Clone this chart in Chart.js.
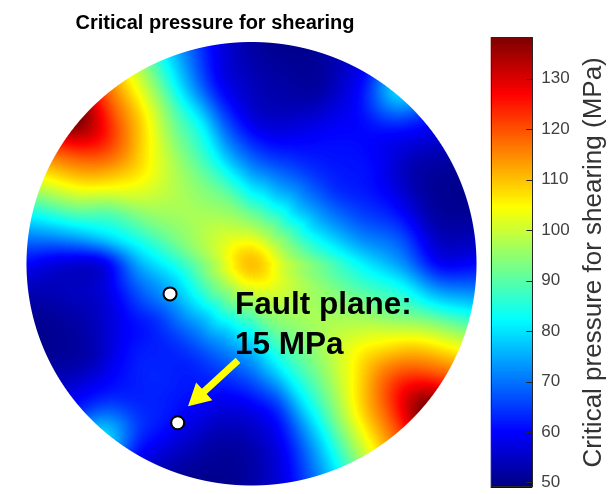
<!DOCTYPE html>
<html>
<head>
<meta charset="utf-8">
<style>
  html, body { margin: 0; padding: 0; background: #ffffff; overflow: hidden; }
  #wrap { position: relative; width: 616px; height: 494px; overflow: hidden; }
  #wrap canvas { position: absolute; left: 0; top: 0; }
</style>
<script src="https://cdn.jsdelivr.net/npm/chart.js@4.4.1/dist/chart.umd.min.js"></script>
</head>
<body>
<div id="wrap">
  <canvas id="net" width="616" height="494"></canvas>
  <canvas id="bar" width="616" height="540"></canvas>
</div>
<script>
// Lower-hemisphere net of pole directions, sampled on rings (fraction of the net radius)
// and azimuths (degrees clockwise from north). Values: critical pressure for shearing, MPa.
const ringRadius = [0, 1/6, 2/6, 3/6, 4/6, 5/6, 1];
const azimuths = [0, 10, 20, 30, 40, 50, 60, 70, 80, 90, 100, 110, 120, 130, 140, 150, 160, 170,
                  180, 190, 200, 210, 220, 230, 240, 250, 260, 270, 280, 290, 300, 310, 320, 330, 340, 350];
const centrePressure = 110;
const ring1 = [97, 96, 95, 95, 94, 95, 95, 96, 97, 99, 99, 100, 101, 101, 101, 100, 99, 98,
               96, 96, 95, 95, 94, 95, 95, 96, 97, 97, 99, 100, 101, 101, 101, 100, 99, 98];
const ring2 = [81, 79, 77, 77, 76, 77, 78, 81, 85, 90, 92, 95, 96, 97, 96, 94, 91, 86,
               81, 79, 77, 77, 76, 77, 78, 79, 81, 85, 90, 94, 96, 97, 96, 94, 91, 86];
const ring3 = [67, 64, 64, 64, 64, 64, 66, 69, 74, 81, 87, 93, 97, 99, 97, 92, 85, 76,
               69, 66, 65, 64, 64, 64, 64, 67, 70, 75, 83, 91, 97, 99, 97, 92, 84, 74];
const ring4 = [57, 55, 57, 60, 61, 61, 60, 62, 67, 73, 84, 93, 103, 108, 103, 93, 80, 64,
               58, 57, 60, 62, 63, 62, 59, 57, 57, 58, 78, 90, 103, 108, 103, 93, 82, 66];
const ring5 = [54, 52, 52, 58, 62, 58, 53, 52, 54, 60, 77, 97, 113, 122, 113, 97, 77, 60,
               53, 52, 56, 62, 64, 60, 53, 52, 54, 57, 77, 97, 113, 122, 113, 97, 77, 60];
const ring6 = [52, 50, 52, 60, 78, 62, 53, 50, 52, 60, 77, 99, 119, 138, 119, 99, 77, 60,
               52, 50, 52, 60, 78, 62, 53, 50, 52, 60, 77, 99, 119, 138, 119, 99, 77, 60];
const rings = [ring1, ring2, ring3, ring4, ring5, ring6];

// Colour scale (256-step jet)
const barMin = 49.0;
const barMax = 138.2;
const barTicks = [50, 60, 70, 80, 90, 100, 110, 120, 130];
const colourSteps = 256;

// Fault-plane poles (net coordinates, radius = 1)
const poleX = [-0.362, -0.328];
const poleY = [-0.136, -0.717];

// Arrow and label in net coordinates
const arrowTail = [-0.060, -0.436];
const arrowHead = [-0.282, -0.643];
const noteLines = ['Fault plane:', '15 MPa'];
const noteX = -0.073;
const noteY = [-0.228, -0.406];

const FONT = '"Liberation Sans", Arial, Helvetica, sans-serif';

function jet(val) {
  let t = (val - barMin) / (barMax - barMin);
  let k = Math.floor(t * colourSteps) + 1;
  k = Math.min(colourSteps, Math.max(1, k));
  t = k / colourSteps;
  const c = x => Math.round(255 * Math.min(1, Math.max(0, 1.5 - Math.abs(x))));
  return [c(4 * t - 3), c(4 * t - 2), c(4 * t - 1)];
}

const nAz = azimuths.length;
const nRing = ringRadius.length;

// value on ring k (k may run one step past either end) at azimuth column j
function ringValue(k, j) {
  j = ((j % nAz) + nAz) % nAz;
  if (k < 0) return ringValue(-k, j + nAz / 2);      // continue through the centre
  if (k === 0) return centrePressure;
  if (k >= nRing) return 2 * ringValue(nRing - 1, j) - ringValue(nRing - 2, j);
  return rings[k - 1][j];
}

function cubic(p0, p1, p2, p3, t) {
  return 0.5 * (2 * p1 + (-p0 + p2) * t + (2 * p0 - 5 * p1 + 4 * p2 - p3) * t * t
    + (-p0 + 3 * p1 - 3 * p2 + p3) * t * t * t);
}

function pressureAt(u, v) {
  const r = Math.min(Math.hypot(u, v), 1);
  let az = Math.atan2(u, v) * 180 / Math.PI;
  if (az < 0) az += 360;
  let i = 0;
  while (i < nRing - 2 && r > ringRadius[i + 1]) i++;
  const fr = (r - ringRadius[i]) / (ringRadius[i + 1] - ringRadius[i]);
  const a = az / (360 / nAz);
  const j = Math.floor(a);
  const fa = a - j;
  const along = k => cubic(ringValue(k, j - 1), ringValue(k, j), ringValue(k, j + 1), ringValue(k, j + 2), fa);
  return cubic(along(i - 1), along(i), along(i + 1), along(i + 2), fr);
}

// Paints the interpolated pressure field inside the unit circle of the net
const fieldPlugin = {
  id: 'field',
  beforeDatasetsDraw(chart) {
    const { ctx, chartArea, scales } = chart;
    const xs = scales.x, ys = scales.y;
    const x0 = Math.floor(chartArea.left) - 1, y0 = Math.floor(chartArea.top) - 1;
    const w = Math.ceil(chartArea.right) - x0 + 2, h = Math.ceil(chartArea.bottom) - y0 + 2;
    const off = document.createElement('canvas');
    off.width = w; off.height = h;
    const octx = off.getContext('2d');
    const img = octx.createImageData(w, h);
    const radiusPx = xs.getPixelForValue(1) - xs.getPixelForValue(0);
    for (let py = 0; py < h; py++) {
      const v = ys.getValueForPixel(y0 + py + 0.5);
      for (let px = 0; px < w; px++) {
        const u = xs.getValueForPixel(x0 + px + 0.5);
        const r = Math.hypot(u, v);
        const alpha = Math.min(1, Math.max(0, (1 - r) * radiusPx + 0.5));
        if (alpha <= 0) continue;
        const col = jet(pressureAt(u, v));
        const o = (py * w + px) * 4;
        img.data[o] = col[0]; img.data[o + 1] = col[1]; img.data[o + 2] = col[2];
        img.data[o + 3] = Math.round(alpha * 255);
      }
    }
    octx.putImageData(img, 0, 0);
    ctx.drawImage(off, x0, y0);
  }
};

// Arrow, annotation text and title
const notePlugin = {
  id: 'note',
  afterDatasetsDraw(chart) {
    const { ctx, scales } = chart;
    const xs = scales.x, ys = scales.y;
    const tx = xs.getPixelForValue(arrowTail[0]), ty = ys.getPixelForValue(arrowTail[1]);
    const hx = xs.getPixelForValue(arrowHead[0]), hy = ys.getPixelForValue(arrowHead[1]);
    const len = Math.hypot(hx - tx, hy - ty);
    const ux = (hx - tx) / len, uy = (hy - ty) / len;
    const nx = -uy, ny = ux;
    const headLen = 22, headHalf = 12, shaftHalf = 3.5;
    const bx = hx - ux * headLen, by = hy - uy * headLen;
    ctx.save();
    ctx.fillStyle = '#ffff00';
    ctx.beginPath();
    ctx.moveTo(tx + nx * shaftHalf, ty + ny * shaftHalf);
    ctx.lineTo(bx + nx * shaftHalf, by + ny * shaftHalf);
    ctx.lineTo(bx + nx * headHalf, by + ny * headHalf);
    ctx.lineTo(hx, hy);
    ctx.lineTo(bx - nx * headHalf, by - ny * headHalf);
    ctx.lineTo(bx - nx * shaftHalf, by - ny * shaftHalf);
    ctx.lineTo(tx - nx * shaftHalf, ty - ny * shaftHalf);
    ctx.closePath();
    ctx.fill();

    ctx.fillStyle = '#000000';
    ctx.font = 'bold 31.5px ' + FONT;
    ctx.textAlign = 'left';
    ctx.textBaseline = 'alphabetic';
    noteLines.forEach((line, k) => {
      ctx.fillText(line, xs.getPixelForValue(noteX), ys.getPixelForValue(noteY[k]));
    });

    ctx.font = 'bold 20px ' + FONT;
    ctx.textAlign = 'center';
    ctx.fillText('Critical pressure for shearing', xs.getPixelForValue(-0.162), 29);
    ctx.restore();
  }
};

new Chart(document.getElementById('net'), {
  type: 'scatter',
  data: {
    datasets: [{
      data: poleX.map((x, k) => ({ x, y: poleY[k] })),
      pointRadius: 6.5,
      pointHoverRadius: 6.5,
      pointBackgroundColor: '#ffffff',
      pointBorderColor: '#000000',
      pointBorderWidth: 2
    }]
  },
  options: {
    responsive: false,
    animation: false,
    events: [],
    layout: { padding: { left: 26.5, right: 616 - 476.5, top: 42, bottom: 2 } },
    scales: {
      x: { type: 'linear', min: -1, max: 1, display: false },
      y: { type: 'linear', min: -1, max: 1, display: false }
    },
    plugins: { legend: { display: false }, tooltip: { enabled: false } }
  },
  plugins: [fieldPlugin, notePlugin]
});

// Colour bar: gradient, frame, inward ticks and rotated label
const barPlugin = {
  id: 'colourBar',
  beforeDatasetsDraw(chart) {
    const { ctx, chartArea } = chart;
    const s = chart.scales.cb;
    ctx.save();
    for (let py = Math.floor(chartArea.top); py < Math.ceil(chartArea.bottom); py++) {
      const c = jet(s.getValueForPixel(py + 0.5));
      ctx.fillStyle = `rgb(${c[0]},${c[1]},${c[2]})`;
      ctx.fillRect(chartArea.left, py, chartArea.right - chartArea.left, 1);
    }
    ctx.strokeStyle = '#262626';
    ctx.lineWidth = 1;
    ctx.strokeRect(Math.round(chartArea.left) + 0.5, Math.round(chartArea.top) + 0.5,
      Math.round(chartArea.right - chartArea.left) - 1, Math.round(chartArea.bottom - chartArea.top) - 1);
    barTicks.forEach(t => {
      const y = Math.round(s.getPixelForValue(t)) + 0.5;
      ctx.beginPath();
      ctx.moveTo(chartArea.right - 6, y);
      ctx.lineTo(chartArea.right, y);
      ctx.stroke();
    });
    ctx.translate(594, (chartArea.top + chartArea.bottom) / 2);
    ctx.rotate(-Math.PI / 2);
    ctx.fillStyle = '#333333';
    ctx.font = '26px ' + FONT;
    ctx.textAlign = 'center';
    ctx.textBaseline = 'middle';
    ctx.fillText('Critical pressure for shearing (MPa)', 0, 0);
    ctx.restore();
  }
};

new Chart(document.getElementById('bar'), {
  type: 'scatter',
  data: { datasets: [{ data: [], yAxisID: 'cb' }] },
  options: {
    responsive: false,
    animation: false,
    events: [],
    layout: { padding: { left: 490.7, right: 0, top: 37.3, bottom: 540 - 487.5 } },
    scales: {
      x: { type: 'linear', min: 0, max: 1, display: false },
      cb: {
        type: 'linear',
        axis: 'y',
        position: 'right',
        min: barMin,
        max: barMax,
        afterBuildTicks: s => { s.ticks = barTicks.map(v => ({ value: v })); },
        afterFit: s => { s.width = 616 - 532.3; },
        grid: { display: false, drawTicks: false },
        border: { display: false },
        ticks: { padding: 9, color: '#404040', font: { family: FONT, size: 17 } }
      }
    },
    plugins: { legend: { display: false }, tooltip: { enabled: false } }
  },
  plugins: [barPlugin]
});
</script>
</body>
</html>
